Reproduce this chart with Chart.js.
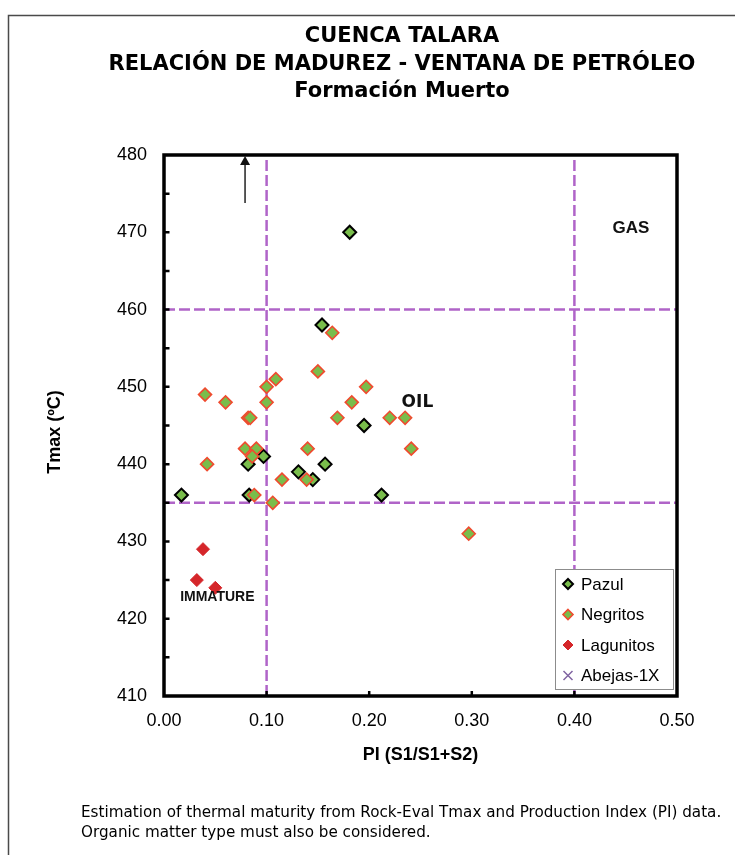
<!DOCTYPE html>
<html>
<head>
<meta charset="utf-8">
<script src="https://cdn.jsdelivr.net/npm/chart.js@4.4.1/dist/chart.umd.min.js"></script>
<style>
  html, body { margin: 0; padding: 0; background: #fff; }
  #wrap { width: 735px; height: 855px; }
</style>
</head>
<body>
<div id="wrap"><canvas id="c" width="735" height="855"></canvas></div>
<script>
// Rock-Eval maturity data, Formación Muerto
const seriesNames = ['Pazul', 'Negritos', 'Lagunitos', 'Abejas-1X'];

const pazulPI   = [0.017, 0.083, 0.212, 0.082, 0.097, 0.131, 0.145, 0.157, 0.195, 0.154, 0.181];
const pazulTmax = [436,   436,   436,   440,   441,   439,   438,   440,   445,   458,   470];

const negritosPI   = [0.164, 0.150, 0.109, 0.100, 0.040, 0.060, 0.100, 0.082, 0.084, 0.169, 0.183, 0.197, 0.220,
                      0.235, 0.241, 0.079, 0.090, 0.086, 0.140, 0.042, 0.115, 0.139, 0.088, 0.106, 0.297];
const negritosTmax = [457,   452,   451,   450,   449,   448,   448,   446,   446,   446,   448,   450,   446,
                      446,   442,   442,   442,   441,   442,   440,   438,   438,   436,   435,   431];

const lagunitosPI   = [0.038, 0.032, 0.050];
const lagunitosTmax = [429,   425,   424];

const abejasPI   = [];
const abejasTmax = [];

// axis ranges and tick labels
const piTicks   = [0.00, 0.10, 0.20, 0.30, 0.40, 0.50];
const tmaxTicks = [410, 420, 430, 440, 450, 460, 470, 480];

// maturity window boundaries
const piLimits   = [0.10, 0.40];
const tmaxLimits = [435, 460];

// zone captions
const zoneNames = ['GAS', 'OIL', 'IMMATURE'];
const zonePI    = [0.455, 0.247, 0.052];
const zoneTmax  = [470.5, 448.0, 422.8];

// off-scale sample arrow
const arrowPI   = 0.079;
const arrowTmax = [473.8, 480];

const titleLines = ['CUENCA TALARA', 'RELACIÓN DE MADUREZ - VENTANA DE PETRÓLEO', 'Formación Muerto'];
const noteLines = ['Estimation of thermal maturity from Rock-Eval Tmax and Production Index (PI) data.',
                   'Organic matter type must also be considered.'];

const GREEN = '#79bd4b';
const ORANGE = '#f04a2e';
const RED = '#d5262a';
const PURPLE = '#8064a2';
const DASH = 'rgb(176,100,200)';

const toPoints = (xs, ys) => xs.map((x, i) => ({ x: x, y: ys[i] }));

const limitSets = [];
piLimits.forEach(v => limitSets.push({
  type: 'line', data: [{ x: v, y: tmaxTicks[0] }, { x: v, y: tmaxTicks[tmaxTicks.length - 1] }],
  borderColor: DASH, borderWidth: 2.5, borderDash: [11, 4], pointRadius: 0, fill: false,
  order: 20
}));
tmaxLimits.forEach(v => limitSets.push({
  type: 'line', data: [{ x: piTicks[0], y: v }, { x: piTicks[piTicks.length - 1], y: v }],
  borderColor: DASH, borderWidth: 2.5, borderDash: [11, 4], pointRadius: 0, fill: false,
  order: 20
}));

const markerStyles = [
  { pointStyle: 'rectRot', fill: GREEN, stroke: '#000', bw: 2 },
  { pointStyle: 'rectRot', fill: GREEN, stroke: ORANGE, bw: 1.6 },
  { pointStyle: 'rectRot', fill: RED, stroke: RED, bw: 1 },
  { pointStyle: 'crossRot', fill: PURPLE, stroke: PURPLE, bw: 1.5 }
];

const seriesData = [
  toPoints(pazulPI, pazulTmax),
  toPoints(negritosPI, negritosTmax),
  toPoints(lagunitosPI, lagunitosTmax),
  toPoints(abejasPI, abejasTmax)
];

const scatterSets = seriesNames.map((name, i) => ({
  type: 'scatter',
  label: name,
  data: seriesData[i],
  pointStyle: markerStyles[i].pointStyle,
  pointRadius: 6.5,
  pointHoverRadius: 6.5,
  backgroundColor: markerStyles[i].fill,
  borderColor: markerStyles[i].stroke,
  borderWidth: markerStyles[i].bw,
  order: 10 - i
}));

function marker(ctx, style, x, y, r) {
  ctx.save();
  ctx.fillStyle = style.fill;
  ctx.strokeStyle = style.stroke;
  ctx.lineWidth = style.bw;
  ctx.beginPath();
  if (style.pointStyle === 'rectRot') {
    ctx.moveTo(x, y - r); ctx.lineTo(x + r, y); ctx.lineTo(x, y + r); ctx.lineTo(x - r, y); ctx.closePath();
    ctx.fill(); ctx.stroke();
  } else {
    const d = r * 0.75;
    ctx.moveTo(x - d, y - d); ctx.lineTo(x + d, y + d);
    ctx.moveTo(x + d, y - d); ctx.lineTo(x - d, y + d);
    ctx.stroke();
  }
  ctx.restore();
}

const decor = {
  id: 'decor',
  beforeDraw(chart) {
    const ctx = chart.ctx;
    ctx.save();
    ctx.fillStyle = '#fff';
    ctx.fillRect(0, 0, chart.width, chart.height);
    ctx.strokeStyle = '#4a4a4a';
    ctx.lineWidth = 1.5;
    ctx.beginPath();
    ctx.moveTo(8.5, chart.height);
    ctx.lineTo(8.5, 15.5);
    ctx.lineTo(chart.width, 15.5);
    ctx.stroke();
    ctx.restore();
  },
  afterDatasetsDraw(chart) {
    const ctx = chart.ctx;
    const a = chart.chartArea;
    const xs = chart.scales.x, ys = chart.scales.y;
    ctx.save();

    // plot frame
    ctx.strokeStyle = '#000';
    ctx.lineWidth = 3.5;
    ctx.strokeRect(a.left, a.top, a.right - a.left, a.bottom - a.top);

    // inward tick marks
    ctx.lineWidth = 2.5;
    ctx.beginPath();
    for (let v = tmaxTicks[0] + 5; v < tmaxTicks[tmaxTicks.length - 1]; v += 5) {
      const py = ys.getPixelForValue(v);
      ctx.moveTo(a.left, py); ctx.lineTo(a.left + 5.5, py);
    }
    piTicks.slice(1, -1).forEach(v => {
      const px = xs.getPixelForValue(v);
      ctx.moveTo(px, a.bottom); ctx.lineTo(px, a.bottom - 5);
    });
    ctx.stroke();

    // arrow for sample above the scale
    const ax = xs.getPixelForValue(arrowPI);
    const ay0 = ys.getPixelForValue(arrowTmax[0]);
    const ay1 = ys.getPixelForValue(arrowTmax[1]);
    ctx.strokeStyle = '#222';
    ctx.fillStyle = '#111';
    ctx.lineWidth = 1.5;
    ctx.beginPath();
    ctx.moveTo(ax, ay0); ctx.lineTo(ax, ay1 + 8);
    ctx.stroke();
    ctx.beginPath();
    ctx.moveTo(ax, ay1 + 1); ctx.lineTo(ax - 5, ay1 + 10); ctx.lineTo(ax + 5, ay1 + 10); ctx.closePath();
    ctx.fill();

    // zone captions
    ctx.fillStyle = '#111';
    ctx.textAlign = 'center';
    ctx.textBaseline = 'middle';
    const zoneFonts = ['bold 17px "Liberation Sans", Arial, sans-serif',
                       'bold 17px "DejaVu Sans", sans-serif',
                       'bold 14px "Liberation Sans Narrow", "Liberation Sans", Arial, sans-serif'];
    zoneNames.forEach((t, i) => {
      ctx.font = zoneFonts[i];
      ctx.fillText(t, xs.getPixelForValue(zonePI[i]), ys.getPixelForValue(zoneTmax[i]));
    });

    // legend box
    const lx = 555, ly = 569, lw = 118, lh = 120;
    ctx.fillStyle = '#fff';
    ctx.fillRect(lx, ly, lw, lh);
    ctx.strokeStyle = '#8c8c8c';
    ctx.lineWidth = 1;
    ctx.strokeRect(lx + 0.5, ly + 0.5, lw, lh);
    ctx.font = '17px "Liberation Sans", Arial, sans-serif';
    ctx.textAlign = 'left';
    ctx.fillStyle = '#000';
    seriesNames.forEach((name, i) => {
      const y = ly + 15 + i * 30.5;
      marker(ctx, markerStyles[i], lx + 13, y, i === 3 ? 6 : 5);
      ctx.fillStyle = '#000';
      ctx.fillText(name, lx + 26, y + 1);
    });
    ctx.restore();
  },
  afterDraw(chart) {
    const ctx = chart.ctx;
    const a = chart.chartArea;
    ctx.save();
    ctx.fillStyle = '#000';
    ctx.textAlign = 'center';
    ctx.textBaseline = 'middle';
    ctx.font = 'bold 21px "DejaVu Sans", sans-serif';
    titleLines.forEach((t, i) => ctx.fillText(t, 402, 37 + i * 27.5));

    // axis titles
    ctx.font = 'bold 18px "Liberation Sans", Arial, sans-serif';
    ctx.fillText('PI (S1/S1+S2)', (a.left + a.right) / 2, 755);
    ctx.save();
    ctx.translate(55, 432);
    ctx.rotate(-Math.PI / 2);
    ctx.fillText('Tmax (ºC)', 0, 0);
    ctx.restore();

    // note
    ctx.textAlign = 'left';
    ctx.font = '15.2px "DejaVu Sans", sans-serif';
    noteLines.forEach((t, i) => ctx.fillText(t, 81, 813 + i * 20));
    ctx.restore();
  }
};

new Chart(document.getElementById('c'), {
  data: { datasets: scatterSets.concat(limitSets) },
  options: {
    responsive: false,
    animation: false,
    events: [],
    layout: { padding: { left: 0, right: 58, top: 155, bottom: 119 } },
    plugins: { legend: { display: false }, title: { display: false }, tooltip: { enabled: false } },
    scales: {
      x: {
        type: 'linear',
        min: piTicks[0], max: piTicks[piTicks.length - 1],
        grid: { display: false },
        border: { display: false },
        afterFit: s => { s.height = 40; },
        afterBuildTicks: s => { s.ticks = piTicks.map(v => ({ value: v })); },
        ticks: {
          color: '#000',
          padding: 6,
          font: { family: '"Liberation Sans", Arial, sans-serif', size: 18 },
          callback: v => Number(v).toFixed(2)
        }
      },
      y: {
        type: 'linear',
        min: tmaxTicks[0], max: tmaxTicks[tmaxTicks.length - 1],
        grid: { display: false },
        border: { display: false },
        afterFit: s => { s.width = 164; },
        afterBuildTicks: s => { s.ticks = tmaxTicks.map(v => ({ value: v })); },
        ticks: {
          color: '#000',
          padding: 9,
          font: { family: '"Liberation Sans", Arial, sans-serif', size: 18 },
          callback: v => String(v)
        }
      }
    }
  },
  plugins: [decor]
});
</script>
</body>
</html>
